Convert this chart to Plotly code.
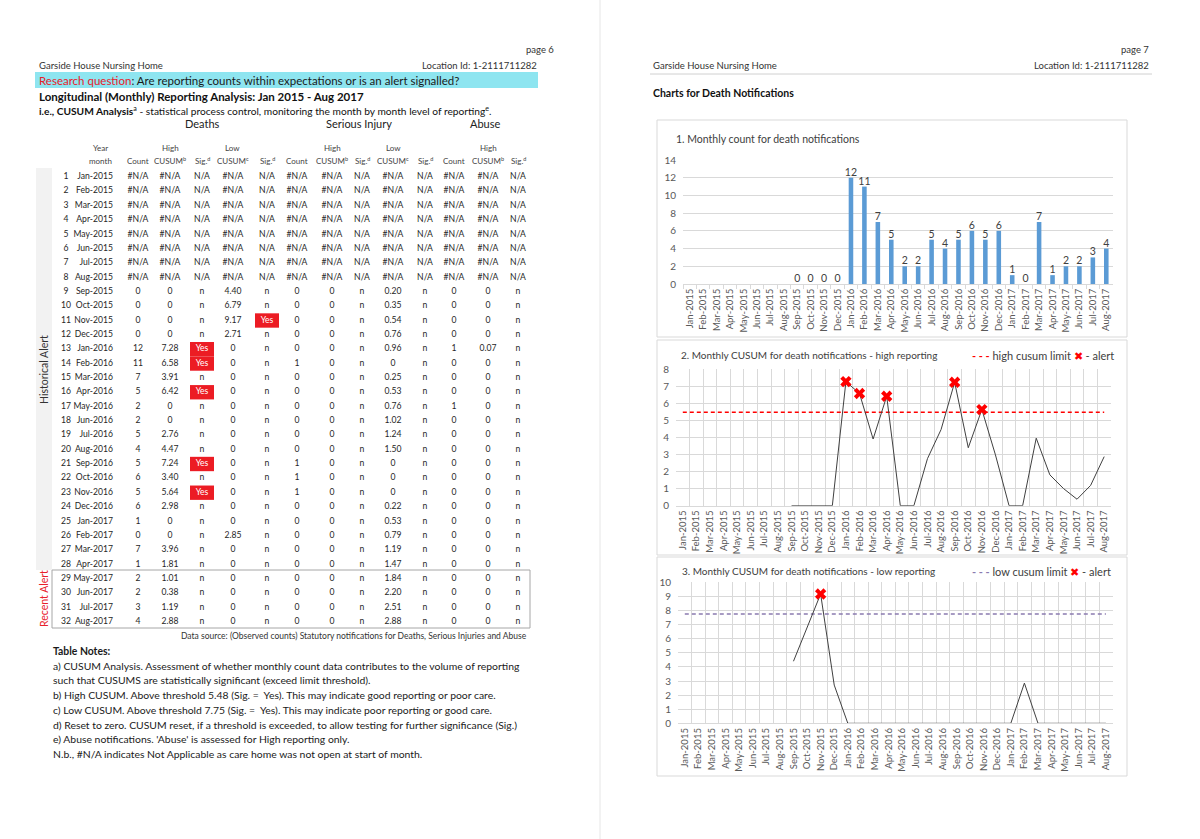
import plotly.graph_objects as go

W, H = 1200, 839
FONT = "Lato, 'Open Sans', sans-serif"

# ---------------- data ----------------
months = ["Jan-2015", "Feb-2015", "Mar-2015", "Apr-2015", "May-2015", "Jun-2015", "Jul-2015", "Aug-2015",
          "Sep-2015", "Oct-2015", "Nov-2015", "Dec-2015", "Jan-2016", "Feb-2016", "Mar-2016", "Apr-2016",
          "May-2016", "Jun-2016", "Jul-2016", "Aug-2016", "Sep-2016", "Oct-2016", "Nov-2016", "Dec-2016",
          "Jan-2017", "Feb-2017", "Mar-2017", "Apr-2017", "May-2017", "Jun-2017", "Jul-2017", "Aug-2017"]
row_numbers = list(range(1, 33))

death_count = [None, None, None, None, None, None, None, None,
               0, 0, 0, 0, 12, 11, 7, 5, 2, 2, 5, 4, 5, 6, 5, 6, 1, 0, 7, 1, 2, 2, 3, 4]
death_high = [None, None, None, None, None, None, None, None,
              0, 0, 0, 0, 7.28, 6.58, 3.91, 6.42, 0, 0, 2.76, 4.47, 7.24, 3.40, 5.64, 2.98,
              0, 0, 3.96, 1.81, 1.01, 0.38, 1.19, 2.88]
death_high_sig = [None, None, None, None, None, None, None, None,
                  "n", "n", "n", "n", "Yes", "Yes", "n", "Yes", "n", "n", "n", "n", "Yes", "n", "Yes", "n",
                  "n", "n", "n", "n", "n", "n", "n", "n"]
death_low = [None, None, None, None, None, None, None, None,
             4.40, 6.79, 9.17, 2.71, 0, 0, 0, 0, 0, 0, 0, 0, 0, 0, 0, 0,
             0, 2.85, 0, 0, 0, 0, 0, 0]
death_low_sig = [None, None, None, None, None, None, None, None,
                 "n", "n", "Yes", "n", "n", "n", "n", "n", "n", "n", "n", "n", "n", "n", "n", "n",
                 "n", "n", "n", "n", "n", "n", "n", "n"]
si_count = [None, None, None, None, None, None, None, None,
            0, 0, 0, 0, 0, 1, 0, 0, 0, 0, 0, 0, 1, 1, 1, 0, 0, 0, 0, 0, 0, 0, 0, 0]
si_high = [None, None, None, None, None, None, None, None,
           0, 0, 0, 0, 0, 0, 0, 0, 0, 0, 0, 0, 0, 0, 0, 0, 0, 0, 0, 0, 0, 0, 0, 0]
si_high_sig = [None, None, None, None, None, None, None, None,
               "n", "n", "n", "n", "n", "n", "n", "n", "n", "n", "n", "n", "n", "n", "n", "n",
               "n", "n", "n", "n", "n", "n", "n", "n"]
si_low = [None, None, None, None, None, None, None, None,
          0.20, 0.35, 0.54, 0.76, 0.96, 0, 0.25, 0.53, 0.76, 1.02, 1.24, 1.50, 0, 0, 0, 0.22,
          0.53, 0.79, 1.19, 1.47, 1.84, 2.20, 2.51, 2.88]
si_low_sig = [None, None, None, None, None, None, None, None,
              "n", "n", "n", "n", "n", "n", "n", "n", "n", "n", "n", "n", "n", "n", "n", "n",
              "n", "n", "n", "n", "n", "n", "n", "n"]
abuse_count = [None, None, None, None, None, None, None, None,
               0, 0, 0, 0, 1, 0, 0, 0, 1, 0, 0, 0, 0, 0, 0, 0, 0, 0, 0, 0, 0, 0, 0, 0]
abuse_high = [None, None, None, None, None, None, None, None,
              0, 0, 0, 0, 0.07, 0, 0, 0, 0, 0, 0, 0, 0, 0, 0, 0, 0, 0, 0, 0, 0, 0, 0, 0]
abuse_high_sig = [None, None, None, None, None, None, None, None,
                  "n", "n", "n", "n", "n", "n", "n", "n", "n", "n", "n", "n", "n", "n", "n", "n",
                  "n", "n", "n", "n", "n", "n", "n", "n"]

high_limit = 5.48
low_limit = 7.75

# ---------------- styling ----------------
RED = "#FF0000"
YES_RED = "#EC1C24"
BAR_BLUE = "#5B9BD5"
GRID = "#D9D9D9"
TXT = "#262626"
AX_TXT = "#595959"
PURPLE = "#8B7BB0"
CYAN = "#8EE5F0"


def fx(x):
    return x / W


def fy(y):
    return 1 - y / H


def f_count(v):
    return "#N/A" if v is None else str(v)


def f_cusum(v):
    if v is None:
        return "#N/A"
    return "0" if v == 0 else f"{v:.2f}"


def f_sig(v):
    return "N/A" if v is None else v


fig = go.Figure()
annotations = []
shapes = []


def text(x, y, s, size=10, color=TXT, anchor="left", angle=0, yanchor="middle"):
    annotations.append(dict(x=fx(x), y=fy(y), xref="paper", yref="paper", text=s, showarrow=False,
                            xanchor=anchor, yanchor=yanchor, textangle=angle, borderpad=0,
                            font=dict(family=FONT, size=size, color=color)))


# ================= LEFT PAGE =================
text(555, 50, "page 6", 9.5, "#333333", "right")
text(38, 66, "Garside House Nursing Home", 9.5, "#333333")
text(538, 66, "Location Id: 1-2111711282", 9.5, "#333333", "right")
shapes.append(dict(type="rect", xref="paper", yref="paper", x0=fx(35), x1=fx(538), y0=fy(88), y1=fy(72),
                   fillcolor=CYAN, line=dict(width=0), layer="below"))
text(38, 80, "<span style='color:#E8202A'>Research question</span>: Are reporting counts within expectations or is an alert signalled?",
     11.5, "#1a1a1a")
text(38, 96, "<b>Longitudinal (Monthly) Reporting Analysis: Jan 2015 - Aug 2017</b>", 11.5, "#111111")
text(38, 110, "<b>i.e., CUSUM Analysis</b><sup>a</sup> - statistical process control, monitoring the month by month level of reporting<sup>e</sup>.",
     10.2, "#111111")
text(202, 123, "Deaths", 11, "#222222", "center")
text(359, 123, "Serious Injury", 11, "#222222", "center")
text(485, 123, "Abuse", 11, "#222222", "center")

col_x = [66, 113, 138, 170, 202, 233, 267, 297, 332, 362, 393, 425, 454, 488, 518]
hdr1 = ["", "Year", "", "High", "", "Low", "", "", "High", "", "Low", "", "", "High", ""]
hdr2 = ["", "month", "Count", "CUSUM<sup>b</sup>", "Sig.<sup>d</sup>", "CUSUM<sup>c</sup>", "Sig.<sup>d</sup>",
        "Count", "CUSUM<sup>b</sup>", "Sig.<sup>d</sup>", "CUSUM<sup>c</sup>", "Sig.<sup>d</sup>",
        "Count", "CUSUM<sup>b</sup>", "Sig.<sup>d</sup>"]
for i, (h1, h2) in enumerate(zip(hdr1, hdr2)):
    xc = col_x[i] - 13 if i == 1 else col_x[i]
    if h1:
        text(xc, 148, h1, 8, "#444444", "center")
    if h2:
        text(xc, 161, h2, 8, "#444444", "center")

# side bands
shapes.append(dict(type="rect", xref="paper", yref="paper", x0=fx(36), x1=fx(52), y0=fy(570), y1=fy(168),
                   fillcolor="#F2F2F2", line=dict(width=0), layer="below"))
text(44, 370, "Historical Alert", 10.5, "#333333", "center", -90)
shapes.append(dict(type="rect", xref="paper", yref="paper", x0=fx(52), x1=fx(530), y0=fy(628), y1=fy(570),
                   fillcolor="rgba(0,0,0,0)", line=dict(width=1, color="#A6A6A6"), layer="below"))
text(44, 599, "Recent Alert", 10.5, "#E8202A", "center", -90)

# table cells
table_cols = [
    ([str(r) for r in row_numbers], "middle center"),
    (months, "middle left"),
    ([f_count(v) for v in death_count], "middle center"),
    ([f_cusum(v) for v in death_high], "middle center"),
    ([f_sig(v) for v in death_high_sig], "middle center"),
    ([f_cusum(v) for v in death_low], "middle center"),
    ([f_sig(v) for v in death_low_sig], "middle center"),
    ([f_count(v) for v in si_count], "middle center"),
    ([f_cusum(v) for v in si_high], "middle center"),
    ([f_sig(v) for v in si_high_sig], "middle center"),
    ([f_cusum(v) for v in si_low], "middle center"),
    ([f_sig(v) for v in si_low_sig], "middle center"),
    ([f_count(v) for v in abuse_count], "middle center"),
    ([f_cusum(v) for v in abuse_high], "middle center"),
    ([f_sig(v) for v in abuse_high_sig], "middle center"),
]
for (vals, pos), xc in zip(table_cols, col_x):
    fig.add_trace(go.Scatter(
        x=[xc] * len(vals), y=row_numbers, mode="text", text=vals, textposition=pos,
        textfont=dict(family=FONT, size=8.6, color=["white" if t == "Yes" else TXT for t in vals]),
        xaxis="x4", yaxis="y4", hoverinfo="skip", showlegend=False, cliponaxis=False))

for sig_list, xc in [(death_high_sig, col_x[4]), (death_low_sig, col_x[6])]:
    for r, s in zip(row_numbers, sig_list):
        if s == "Yes":
            shapes.append(dict(type="rect", xref="x4", yref="y4", x0=xc - 12, x1=xc + 12,
                               y0=r - 0.5, y1=r + 0.5, fillcolor=YES_RED, line=dict(width=0), layer="below"))

text(528, 636, "Data source: (Observed counts) Statutory notifications for Deaths, Serious Injuries and Abuse",
     8.5, "#333333", "right")

notes = [
    "<b>Table Notes:</b>",
    "a) CUSUM Analysis. Assessment of whether monthly count data contributes to the volume of reporting",
    "such that CUSUMS are statistically significant (exceed limit threshold).",
    "b) High CUSUM. Above threshold 5.48 (Sig. =  Yes). This may indicate good reporting or poor care.",
    "c) Low CUSUM. Above threshold 7.75 (Sig. =  Yes). This may indicate poor reporting or good care.",
    "d) Reset to zero. CUSUM reset, if a threshold is exceeded, to allow testing for further significance (Sig.)",
    "e) Abuse notifications. 'Abuse' is assessed for High reporting only.",
    "N.b., #N/A indicates Not Applicable as care home was not open at start of month.",
]
for i, n in enumerate(notes):
    text(52, 651 + i * 14.7, n, 10.4, "#1a1a1a")

# page separator
shapes.append(dict(type="line", xref="paper", yref="paper", x0=fx(600), x1=fx(600), y0=0, y1=1,
                   line=dict(width=1, color="#E6E6E6")))

# ================= RIGHT PAGE =================
text(1150, 50, "page 7", 9.5, "#333333", "right")
text(652, 66, "Garside House Nursing Home", 9.5, "#333333")
text(1150, 66, "Location Id: 1-2111711282", 9.5, "#333333", "right")
shapes.append(dict(type="line", xref="paper", yref="paper", x0=fx(650), x1=fx(1152), y0=fy(74), y1=fy(74),
                   line=dict(width=1, color="#D0D0D0")))
text(652, 93, "<b>Charts for Death Notifications</b>", 10.5, "#111111")

# chart frames
for (t, b) in [(120, 337), (340, 555), (557, 776)]:
    shapes.append(dict(type="rect", xref="paper", yref="paper", x0=fx(657), x1=fx(1127), y0=fy(b), y1=fy(t),
                       line=dict(width=1, color="#D9D9D9"), fillcolor="rgba(0,0,0,0)", layer="below"))

text(675, 139, "1. Monthly count for death notifications", 10.5, "#404040")
text(680, 355, "2. Monthly CUSUM for death notifications - high reporting", 10, "#404040")
text(1115, 355, "<span style='color:#FF0000'><b>- - -</b></span> high cusum limit <span style='color:#FF0000'>✖</span> - alert",
     11, "#404040", "right")
text(681, 571, "3. Monthly CUSUM for death notifications - low reporting", 10, "#404040")
text(1112, 571, f"<span style='color:{PURPLE}'><b>- - -</b></span> low cusum limit <span style='color:#FF0000'>✖</span> - alert",
     11, "#404040", "right")

# chart 1: bars
fig.add_trace(go.Bar(
    x=months, y=death_count, marker=dict(color=BAR_BLUE, line=dict(width=0)),
    text=[("" if v is None else str(v)) for v in death_count], textposition="outside",
    constraintext="none", textangle=0,
    textfont=dict(family=FONT, size=10.5, color="#404040"), cliponaxis=False,
    xaxis="x", yaxis="y", hoverinfo="skip", showlegend=False))

# chart 2: high CUSUM
fig.add_trace(go.Scatter(x=months, y=[high_limit] * len(months), mode="lines",
                         line=dict(color=RED, width=1.5, dash="4px,3px"), xaxis="x2", yaxis="y2",
                         hoverinfo="skip", showlegend=False))
fig.add_trace(go.Scatter(x=months, y=death_high, mode="lines", line=dict(color="#404040", width=1),
                         xaxis="x2", yaxis="y2", hoverinfo="skip", showlegend=False))
hi_alert = [(m, v) for m, v, s in zip(months, death_high, death_high_sig) if s == "Yes"]
fig.add_trace(go.Scatter(x=[a[0] for a in hi_alert], y=[a[1] for a in hi_alert], mode="markers",
                         marker=dict(symbol="x", size=10, color=RED, line=dict(width=0)),
                         xaxis="x2", yaxis="y2", hoverinfo="skip", showlegend=False, cliponaxis=False))

# chart 3: low CUSUM
fig.add_trace(go.Scatter(x=months, y=[low_limit] * len(months), mode="lines",
                         line=dict(color=PURPLE, width=1.5, dash="4px,3px"), xaxis="x3", yaxis="y3",
                         hoverinfo="skip", showlegend=False))
fig.add_trace(go.Scatter(x=months, y=death_low, mode="lines", line=dict(color="#404040", width=1),
                         xaxis="x3", yaxis="y3", hoverinfo="skip", showlegend=False))
lo_alert = [(m, v) for m, v, s in zip(months, death_low, death_low_sig) if s == "Yes"]
fig.add_trace(go.Scatter(x=[a[0] for a in lo_alert], y=[a[1] for a in lo_alert], mode="markers",
                         marker=dict(symbol="x", size=10, color=RED, line=dict(width=0)),
                         xaxis="x3", yaxis="y3", hoverinfo="skip", showlegend=False, cliponaxis=False))


def cat_axis(domain, anchor, grid):
    return dict(domain=domain, anchor=anchor, type="category", categoryorder="array", categoryarray=months,
                range=[-0.5, 31.5], tickmode="linear", tick0=0, dtick=1, tickangle=-90,
                tickfont=dict(family=FONT, size=9.5, color=AX_TXT), showgrid=grid, gridcolor=GRID,
                gridwidth=1, tickson="boundaries", ticks="outside" if not grid else "", ticklen=4,
                tickcolor=GRID, showline=True, linecolor=GRID, linewidth=1, zeroline=False,
                fixedrange=True, automargin=False)


def val_axis(domain, anchor, rng, dtick):
    return dict(domain=domain, anchor=anchor, range=rng, dtick=dtick, tick0=0, showgrid=True, gridcolor=GRID,
                gridwidth=1, zeroline=False, showline=False, ticks="", ticklabelstandoff=6,
                tickfont=dict(family=FONT, size=10, color=AX_TXT), fixedrange=True, automargin=False)


fig.update_layout(
    width=W, height=H, margin=dict(l=0, r=0, t=0, b=0, pad=0, autoexpand=False),
    paper_bgcolor="white", plot_bgcolor="rgba(0,0,0,0)",
    font=dict(family=FONT, color=TXT),
    bargap=0.66, showlegend=False,
    xaxis=cat_axis([fx(683), fx(1113)], "y", False),
    yaxis=val_axis([fy(284), fy(160)], "x", [0, 14], 2),
    xaxis2=cat_axis([fx(676), fx(1111)], "y2", True),
    yaxis2=val_axis([fy(505.7), fy(369.3)], "x2", [0, 8], 1),
    xaxis3=cat_axis([fx(678), fx(1112.7)], "y3", True),
    yaxis3=val_axis([fy(723.3), fy(582.3)], "x3", [0, 10], 1),
    xaxis4=dict(domain=[0, 1], anchor="y4", range=[0, W], visible=False, fixedrange=True, automargin=False),
    yaxis4=dict(domain=[fy(177 + 31.5 * 14.35), fy(177 - 0.5 * 14.35)], anchor="x4", range=[32.5, 0.5],
                visible=False, fixedrange=True, automargin=False),
    annotations=annotations, shapes=shapes,
)

fig.write_html("out.html", config={"displayModeBar": False},
               post_script="document.body.style.margin='0';document.body.style.overflow='hidden';")
